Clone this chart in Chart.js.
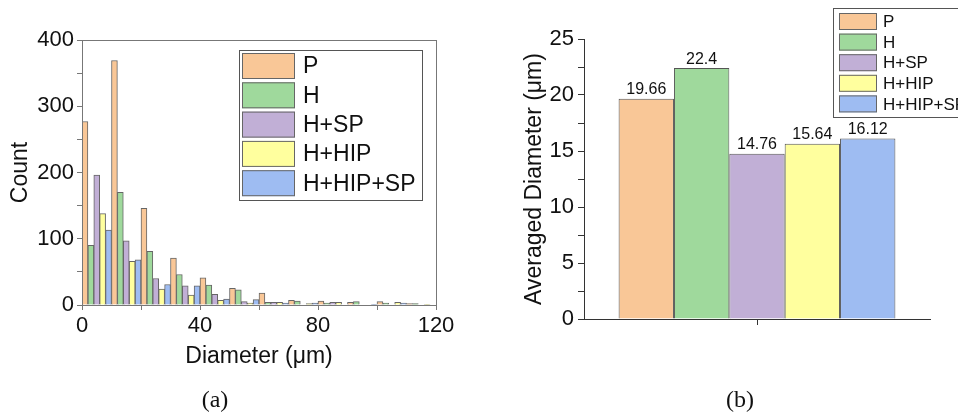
<!DOCTYPE html>
<html>
<head>
<meta charset="utf-8">
<title>Diameter distribution</title>
<script src="https://cdn.jsdelivr.net/npm/chart.js@4.4.1/dist/chart.umd.min.js"></script>
<style>
  body { margin: 0; background: #fff; }
  #wrap { position: relative; width: 958px; height: 416px; overflow: hidden; background: #fff; }
  #histChart { position: absolute; left: 0; top: 0; }
  #avgChart { position: absolute; left: 480px; top: 0; }
  .panel { position: absolute; top: 386px; width: 60px; text-align: center;
           font-family: "Liberation Serif", "Times New Roman", serif; font-size: 24px; color: #111; }
</style>
</head>
<body>
<div id="wrap">
  <canvas id="histChart" width="470" height="390"></canvas>
  <canvas id="avgChart" width="478" height="390"></canvas>
  <div class="panel" style="left:185px">(a)</div>
  <div class="panel" style="left:710px">(b)</div>
</div>
<script>
// series names and colours
var seriesNames = ['P', 'H', 'H+SP', 'H+HIP', 'H+HIP+SP'];
var seriesColors = ['#F9C797', '#9FD99C', '#C1AFD6', '#FFFF9E', '#9EBCF2'];

// (a) histogram: bin centres (10 µm bins) and counts per series
var binCenters = [5, 15, 25, 35, 45, 55, 65, 75, 85, 95, 105, 115];
var countP = [277, 369, 146, 71, 41, 25, 18, 7, 6, 4, 5, 2];
var countH = [90, 170, 81, 46, 30, 23, 4, 6, 3, 5, 3, 2];
var countHSP = [196, 97, 40, 29, 16, 5, 4, 0, 4, 0, 0, 0];
var countHHIP = [138, 66, 24, 15, 7, 3, 4, 2, 4, 0, 4, 1];
var countHHIPSP = [113, 68, 31, 29, 9, 8, 3, 3, 0, 1, 3, 0];

// (b) averaged diameter per series
var avgDiameter = [19.66, 22.4, 14.76, 15.64, 16.12];

var fontFamily = '"Liberation Sans", Arial, Helvetica, sans-serif';
Chart.defaults.font.family = fontFamily;
Chart.defaults.color = '#111';

// legend box drawn inside the plot like in the figure
var boxLegend = {
    id: 'boxLegend',
    afterDraw: function (chart, args, opts) {
        var ctx = chart.ctx;
        var sets = chart.data.datasets;
        ctx.save();
        ctx.fillStyle = '#fff';
        ctx.fillRect(opts.x, opts.y, opts.width, opts.height);
        ctx.strokeStyle = '#555';
        ctx.lineWidth = 1;
        ctx.strokeRect(opts.x + 0.5, opts.y + 0.5, opts.width, opts.height);
        ctx.font = opts.fontSize + 'px ' + fontFamily;
        ctx.textBaseline = 'middle';
        for (var i = 0; i < sets.length; i++) {
            var top = opts.y + opts.padY + i * opts.rowH;
            var left = opts.x + opts.padX;
            ctx.fillStyle = sets[i].backgroundColor;
            ctx.fillRect(left, top, opts.swatchW, opts.swatchH);
            ctx.strokeStyle = '#666';
            ctx.strokeRect(left + 0.5, top + 0.5, opts.swatchW - 1, opts.swatchH - 1);
            ctx.fillStyle = '#111';
            ctx.fillText(sets[i].label, opts.textX, top + opts.swatchH / 2 + 1);
        }
        ctx.restore();
    }
};

// closed frame round the histogram plot
var plotFrame = {
    id: 'plotFrame',
    afterDraw: function (chart) {
        var a = chart.chartArea;
        var ctx = chart.ctx;
        ctx.save();
        ctx.strokeStyle = '#777';
        ctx.lineWidth = 1;
        ctx.strokeRect(a.left + 0.5, a.top + 0.5, a.right - a.left, a.bottom - a.top);
        ctx.restore();
    }
};

// numbers above the bars in (b)
var barValues = {
    id: 'barValues',
    afterDatasetsDraw: function (chart) {
        var ctx = chart.ctx;
        ctx.save();
        ctx.font = '16px ' + fontFamily;
        ctx.fillStyle = '#111';
        ctx.textAlign = 'center';
        ctx.textBaseline = 'bottom';
        chart.data.datasets.forEach(function (ds, i) {
            var bar = chart.getDatasetMeta(i).data[0];
            ctx.fillText(String(ds.data[0]), bar.x, bar.y - 1);
        });
        ctx.restore();
    }
};

function histDataset(i, counts) {
    return {
        label: seriesNames[i],
        data: binCenters.map(function (c, k) { return { x: c, y: counts[k] }; }),
        backgroundColor: seriesColors[i],
        borderColor: '#666',
        borderWidth: 1,
        barPercentage: 1,
        categoryPercentage: 1
    };
}

document.addEventListener('DOMContentLoaded', function () {
    var hctx = document.getElementById('histChart').getContext('2d');
    new Chart(hctx, {
        type: 'bar',
        data: {
            datasets: [
                histDataset(0, countP),
                histDataset(1, countH),
                histDataset(2, countHSP),
                histDataset(3, countHHIP),
                histDataset(4, countHHIPSP)
            ]
        },
        options: {
            responsive: false,
            animation: false,
            layout: { padding: { top: 40, right: 34, left: 0, bottom: 0 } },
            scales: {
                x: {
                    type: 'linear',
                    min: 0,
                    max: 120,
                    offset: false,
                    afterFit: function (s) { s.height = 85; },
                    grid: { drawOnChartArea: false, offset: false, tickLength: 5, color: '#777' },
                    border: { color: '#777' },
                    ticks: {
                        stepSize: 20,
                        autoSkip: false,
                        maxRotation: 0,
                        padding: 3,
                        font: { size: 22 },
                        color: '#111',
                        callback: function (v) { return v % 40 === 0 ? v : ''; }
                    },
                    title: { display: true, text: 'Diameter (μm)', font: { size: 23 }, color: '#111',
                             padding: { top: 0, bottom: 20 } }
                },
                y: {
                    min: 0,
                    max: 400,
                    afterFit: function (s) { s.width = 82; },
                    grid: { drawOnChartArea: false, tickLength: 5, color: '#777' },
                    border: { color: '#777' },
                    ticks: {
                        stepSize: 50,
                        autoSkip: false,
                        padding: 3,
                        font: { size: 22 },
                        color: '#111',
                        callback: function (v) { return v % 100 === 0 ? v : ''; }
                    },
                    title: { display: true, text: 'Count', font: { size: 23 }, color: '#111',
                             padding: { top: 7, bottom: 0 } }
                }
            },
            plugins: {
                legend: { display: false },
                tooltip: { enabled: false },
                boxLegend: { x: 239, y: 50, width: 183, height: 150, padX: 3, padY: 3,
                             rowH: 29.3, swatchW: 53, swatchH: 26, textX: 303, fontSize: 23 }
            }
        },
        plugins: [plotFrame, boxLegend]
    });

    var actx = document.getElementById('avgChart').getContext('2d');
    new Chart(actx, {
        type: 'bar',
        data: {
            labels: [''],
            datasets: seriesNames.map(function (name, i) {
                return {
                    label: name,
                    data: [avgDiameter[i]],
                    backgroundColor: seriesColors[i],
                    borderColor: '#555',
                    borderWidth: 1,
                    barPercentage: 1,
                    categoryPercentage: 0.8
                };
            })
        },
        options: {
            responsive: false,
            animation: false,
            layout: { padding: { top: 39, right: 28, left: 0, bottom: 0 } },
            scales: {
                x: {
                    afterFit: function (s) { s.height = 71; },
                    grid: { drawOnChartArea: false, offset: false, tickLength: 6, color: '#333' },
                    border: { color: '#333' },
                    ticks: { display: true, font: { size: 22 } }
                },
                y: {
                    min: 0,
                    max: 25,
                    afterFit: function (s) { s.width = 104; },
                    grid: { drawOnChartArea: false, tickLength: 6, color: '#333' },
                    border: { color: '#333' },
                    ticks: {
                        stepSize: 2.5,
                        autoSkip: false,
                        padding: 4,
                        font: { size: 22 },
                        color: '#111',
                        callback: function (v) { return v % 5 === 0 ? v : ''; }
                    },
                    title: { display: true, text: 'Averaged Diameter (μm)', font: { size: 23 }, color: '#111',
                             padding: { top: 41, bottom: 0 } }
                }
            },
            plugins: {
                legend: { display: false },
                tooltip: { enabled: false },
                boxLegend: { x: 353, y: 8, width: 140, height: 109, padX: 6, padY: 5,
                             rowH: 20.6, swatchW: 38, swatchH: 17, textX: 403, fontSize: 17 }
            }
        },
        plugins: [barValues, boxLegend]
    });
});
</script>
</body>
</html>
